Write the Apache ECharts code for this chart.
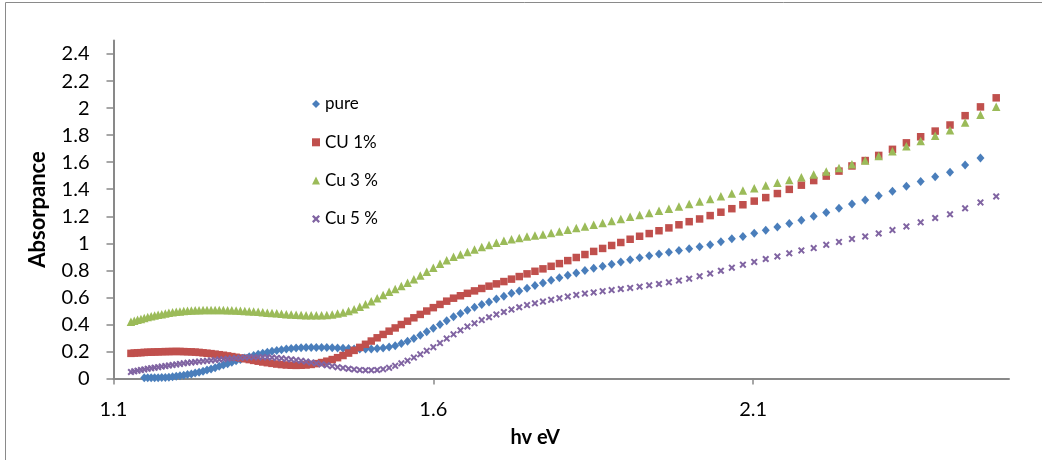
<!DOCTYPE html>
<html>
<head>
<meta charset="utf-8">
<script src="https://cdn.jsdelivr.net/npm/echarts@6/dist/echarts.min.js"></script>
<style>
  html, body { margin: 0; padding: 0; background: #ffffff; }
  #chart { width: 1042px; height: 460px; }
</style>
</head>
<body>
<div id="chart"></div>
<script>
// Photon energy (eV) of each measured wavelength, 1100 nm down to 500 nm
const energy = [
  1.1273, 1.1324, 1.1376, 1.1429, 1.1481, 1.1535, 1.1589, 1.1643, 1.1698, 1.1754,
  1.1810, 1.1866, 1.1923, 1.1981, 1.2039, 1.2098, 1.2157, 1.2217, 1.2277, 1.2338,
  1.2400, 1.2462, 1.2525, 1.2589, 1.2653, 1.2718, 1.2784, 1.2850, 1.2917, 1.2984,
  1.3053, 1.3122, 1.3191, 1.3262, 1.3333, 1.3405, 1.3478, 1.3552, 1.3626, 1.3702,
  1.3778, 1.3855, 1.3933, 1.4011, 1.4091, 1.4171, 1.4253, 1.4335, 1.4419, 1.4503,
  1.4588, 1.4675, 1.4762, 1.4850, 1.4940, 1.5030, 1.5122, 1.5215, 1.5309, 1.5404,
  1.5500, 1.5597, 1.5696, 1.5796, 1.5897, 1.6000, 1.6104, 1.6209, 1.6316, 1.6424,
  1.6533, 1.6644, 1.6757, 1.6871, 1.6986, 1.7103, 1.7222, 1.7343, 1.7465, 1.7589,
  1.7714, 1.7842, 1.7971, 1.8102, 1.8235, 1.8370, 1.8507, 1.8647, 1.8788, 1.8931,
  1.9077, 1.9225, 1.9375, 1.9528, 1.9683, 1.9840, 2.0000, 2.0163, 2.0328, 2.0496,
  2.0667, 2.0840, 2.1017, 2.1197, 2.1379, 2.1565, 2.1754, 2.1947, 2.2143, 2.2342,
  2.2545, 2.2752, 2.2963, 2.3178, 2.3396, 2.3619, 2.3846, 2.4078, 2.4314, 2.4554,
  2.4800
];

// Absorbance of the undoped film (no reading at the first four and last wavelengths)
const pure = [
  null, null, null, null, 0.006, 0.005, 0.005, 0.005, 0.006, 0.007,
  0.008, 0.010, 0.013, 0.016, 0.020, 0.024, 0.029, 0.034, 0.040, 0.047,
  0.054, 0.062, 0.071, 0.080, 0.090, 0.100, 0.110, 0.120, 0.131, 0.141,
  0.151, 0.161, 0.170, 0.179, 0.187, 0.195, 0.202, 0.208, 0.213, 0.218,
  0.222, 0.225, 0.227, 0.229, 0.230, 0.230, 0.230, 0.229, 0.227, 0.225,
  0.223, 0.221, 0.219, 0.218, 0.218, 0.219, 0.221, 0.226, 0.233, 0.243,
  0.258, 0.276, 0.296, 0.319, 0.345, 0.372, 0.400, 0.428, 0.456, 0.481,
  0.505, 0.527, 0.548, 0.566, 0.588, 0.609, 0.630, 0.648, 0.668, 0.687,
  0.706, 0.726, 0.746, 0.764, 0.781, 0.798, 0.815, 0.830, 0.845, 0.862,
  0.879, 0.894, 0.908, 0.921, 0.933, 0.946, 0.960, 0.975, 0.990, 1.011,
  1.033, 1.051, 1.075, 1.096, 1.121, 1.146, 1.170, 1.200, 1.227, 1.259,
  1.290, 1.321, 1.352, 1.385, 1.422, 1.458, 1.492, 1.526, 1.580, 1.630,
  null
];

// Absorbance, 1 % Cu
const cu1 = [
  0.186, 0.188, 0.190, 0.191, 0.193, 0.194, 0.195, 0.196, 0.197, 0.198,
  0.199, 0.199, 0.200, 0.200, 0.200, 0.199, 0.198, 0.197, 0.195, 0.193,
  0.190, 0.187, 0.184, 0.180, 0.176, 0.172, 0.167, 0.162, 0.157, 0.152,
  0.146, 0.140, 0.134, 0.128, 0.122, 0.117, 0.112, 0.107, 0.103, 0.100,
  0.098, 0.097, 0.098, 0.100, 0.104, 0.110, 0.118, 0.128, 0.140, 0.154,
  0.170, 0.188, 0.208, 0.230, 0.253, 0.277, 0.301, 0.326, 0.350, 0.374,
  0.399, 0.424, 0.449, 0.474, 0.499, 0.524, 0.548, 0.572, 0.594, 0.612,
  0.630, 0.648, 0.666, 0.683, 0.700, 0.717, 0.735, 0.754, 0.774, 0.793,
  0.811, 0.830, 0.850, 0.872, 0.895, 0.917, 0.940, 0.962, 0.984, 1.006,
  1.030, 1.052, 1.072, 1.093, 1.114, 1.137, 1.160, 1.180, 1.205, 1.230,
  1.256, 1.285, 1.312, 1.338, 1.368, 1.399, 1.430, 1.464, 1.497, 1.534,
  1.572, 1.612, 1.650, 1.695, 1.743, 1.788, 1.830, 1.875, 1.944, 2.009,
  2.076
];

// Absorbance, 3 % Cu
const cu3 = [
  0.420, 0.427, 0.434, 0.441, 0.447, 0.454, 0.460, 0.466, 0.471, 0.476,
  0.481, 0.486, 0.490, 0.493, 0.496, 0.499, 0.501, 0.503, 0.504, 0.505,
  0.506, 0.507, 0.507, 0.507, 0.507, 0.506, 0.505, 0.504, 0.503, 0.502,
  0.500, 0.498, 0.496, 0.493, 0.490, 0.487, 0.485, 0.482, 0.479, 0.476,
  0.473, 0.471, 0.469, 0.468, 0.467, 0.467, 0.467, 0.469, 0.474, 0.480,
  0.488, 0.499, 0.512, 0.530, 0.550, 0.571, 0.594, 0.618, 0.641, 0.662,
  0.684, 0.708, 0.735, 0.762, 0.790, 0.820, 0.848, 0.875, 0.900, 0.918,
  0.936, 0.954, 0.972, 0.988, 1.004, 1.018, 1.030, 1.040, 1.050, 1.058,
  1.066, 1.077, 1.088, 1.100, 1.113, 1.125, 1.138, 1.151, 1.165, 1.180,
  1.196, 1.210, 1.225, 1.240, 1.256, 1.273, 1.291, 1.309, 1.328, 1.348,
  1.369, 1.390, 1.408, 1.427, 1.447, 1.469, 1.488, 1.508, 1.531, 1.557,
  1.584, 1.613, 1.645, 1.680, 1.718, 1.757, 1.795, 1.836, 1.893, 1.950,
  2.010
];

// Absorbance, 5 % Cu
const cu5 = [
  0.048, 0.053, 0.058, 0.063, 0.067, 0.072, 0.076, 0.080, 0.084, 0.088,
  0.092, 0.096, 0.100, 0.104, 0.108, 0.112, 0.116, 0.119, 0.122, 0.125,
  0.128, 0.131, 0.134, 0.137, 0.140, 0.143, 0.146, 0.149, 0.151, 0.153,
  0.155, 0.157, 0.158, 0.158, 0.158, 0.157, 0.155, 0.152, 0.149, 0.145,
  0.141, 0.136, 0.131, 0.125, 0.119, 0.112, 0.105, 0.098, 0.091, 0.084,
  0.078, 0.072, 0.067, 0.063, 0.061, 0.061, 0.063, 0.069, 0.079, 0.094,
  0.112, 0.132, 0.155, 0.179, 0.205, 0.232, 0.262, 0.295, 0.327, 0.356,
  0.384, 0.408, 0.432, 0.453, 0.474, 0.492, 0.510, 0.527, 0.543, 0.556,
  0.569, 0.582, 0.594, 0.606, 0.618, 0.628, 0.637, 0.646, 0.654, 0.662,
  0.670, 0.679, 0.689, 0.699, 0.711, 0.724, 0.738, 0.757, 0.776, 0.797,
  0.820, 0.842, 0.862, 0.884, 0.903, 0.926, 0.947, 0.965, 0.989, 1.010,
  1.032, 1.051, 1.073, 1.098, 1.125, 1.155, 1.187, 1.214, 1.259, 1.302,
  1.347
];

const seriesNames = ['pure', 'CU 1%', 'Cu 3 %', 'Cu 5 %'];
const xTickValues = [1.1, 1.6, 2.1];
const yTickValues = [0, 0.2, 0.4, 0.6, 0.8, 1, 1.2, 1.4, 1.6, 1.8, 2, 2.2, 2.4];

const FONT = 'Lato, "Liberation Sans", sans-serif';
const AXIS_GREY = '#898989';
// Bold "x" marker
const CROSS = 'path://M0,2L2,0L5,3L8,0L10,2L7,5L10,8L8,10L5,7L2,10L0,8L3,5Z';

function toPoints(values) {
  const pts = [];
  for (let i = 0; i < energy.length; i++) {
    if (values[i] !== null && values[i] !== undefined) pts.push([energy[i], values[i]]);
  }
  return pts;
}

const chart = echarts.init(document.getElementById('chart'), null, { renderer: 'canvas' });

chart.setOption({
  animation: false,
  backgroundColor: '#ffffff',
  textStyle: { fontFamily: FONT },
  graphic: [{
    type: 'rect',
    silent: true,
    shape: { x: 5.5, y: 2.5, width: 1200, height: 600 },
    style: { fill: 'none', stroke: '#8a8a8a', lineWidth: 1 }
  }],
  grid: { left: 113.5, right: 33, top: 40.5, bottom: 81.5 },
  legend: {
    orient: 'vertical',
    left: 307,
    top: 90,
    itemWidth: 8,
    itemHeight: 8,
    itemGap: 20.3,
    textStyle: { fontFamily: FONT, fontSize: 17, color: '#000', lineHeight: 18 },
    data: seriesNames
  },
  xAxis: {
    type: 'value',
    min: 1.1,
    max: 2.5,
    interval: 0.5,
    name: 'hv eV',
    nameLocation: 'middle',
    nameGap: 49,
    nameTextStyle: { fontFamily: FONT, fontSize: 20, fontWeight: 'bold', color: '#000', padding: [0, 52, 0, 0] },
    axisLine: { show: true, onZero: false, lineStyle: { color: AXIS_GREY, width: 2 } },
    axisTick: { show: true, customValues: xTickValues, length: 6, lineStyle: { color: AXIS_GREY, width: 1.5 } },
    axisLabel: { customValues: xTickValues, margin: 21, fontFamily: FONT, fontSize: 20, color: '#000' },
    splitLine: { show: false }
  },
  yAxis: {
    type: 'value',
    min: 0,
    max: 2.5,
    interval: 0.2,
    name: 'Absorpance',
    nameLocation: 'middle',
    nameGap: 65,
    nameRotate: 90,
    nameTextStyle: { fontFamily: FONT, fontSize: 22, fontWeight: 'bold', color: '#000' },
    axisLine: { show: true, onZero: false, lineStyle: { color: AXIS_GREY, width: 2 } },
    axisTick: { show: true, customValues: yTickValues, length: 7, lineStyle: { color: AXIS_GREY, width: 1.5 } },
    axisLabel: { customValues: yTickValues, margin: 24, fontFamily: FONT, fontSize: 20, color: '#000' },
    splitLine: { show: false }
  },
  series: [
    {
      name: seriesNames[0], type: 'scatter', symbol: 'diamond', symbolSize: [8, 9],
      itemStyle: { color: '#4a7ebb', opacity: 1 }, data: toPoints(pure)
    },
    {
      name: seriesNames[1], type: 'scatter', symbol: 'rect', symbolSize: 7.5,
      itemStyle: { color: '#c0504d', opacity: 1 }, data: toPoints(cu1)
    },
    {
      name: seriesNames[2], type: 'scatter', symbol: 'triangle', symbolSize: 8.5,
      itemStyle: { color: '#9bbb59', opacity: 1 }, data: toPoints(cu3)
    },
    {
      name: seriesNames[3], type: 'scatter', symbol: CROSS, symbolSize: 7,
      itemStyle: { color: '#8064a2', opacity: 1 }, data: toPoints(cu5)
    }
  ]
});
</script>
</body>
</html>
